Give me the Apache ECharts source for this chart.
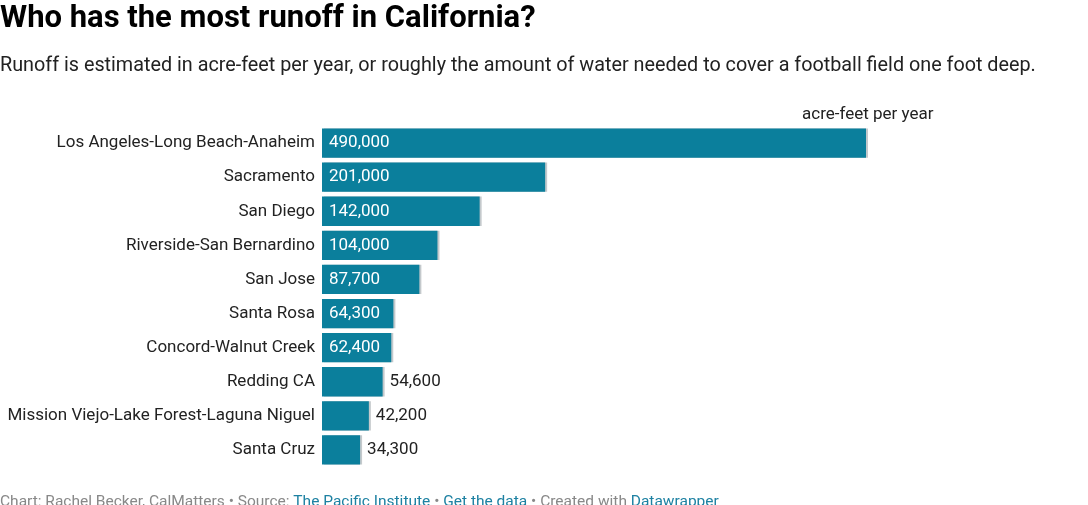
<!DOCTYPE html>
<html><head><meta charset="utf-8">
<script src="https://cdn.jsdelivr.net/npm/echarts@6/dist/echarts.min.js"></script>
<style>html,body{margin:0;padding:0;background:#fff}#c{width:1088px;height:505px}</style>
</head><body><div id="c"></div>
<script>
const categories = ["Los Angeles-Long Beach-Anaheim","Sacramento","San Diego","Riverside-San Bernardino","San Jose","Santa Rosa","Concord-Walnut Creek","Redding CA","Mission Viejo-Lake Forest-Laguna Niguel","Santa Cruz"];
const runoff = [490000,201000,142000,104000,87700,64300,62400,54600,42200,34300];
const unitLabel = "acre-feet per year";

const fmt = v => v.toLocaleString('en-US');
const chart = echarts.init(document.getElementById('c'));
const F = 'Roboto, "Noto Sans", sans-serif';
chart.setOption({
  animation:false,
  textStyle:{fontFamily:F},
  title:[
    {text:"Who has the most runoff in California?",left:0,top:4,padding:0,textStyle:{fontFamily:F,fontSize:31,fontWeight:'bold',color:'#000'}},
    {text:"Runoff is estimated in acre-feet per year, or roughly the amount of water needed to cover a football field one foot deep.",left:0,top:56,padding:0,textStyle:{fontFamily:F,fontSize:19.8,fontWeight:'normal',color:'#222'}},
    {text:unitLabel,left:802,top:106,padding:0,textStyle:{fontFamily:F,fontSize:17,fontWeight:'normal',color:'#222'}},
    {text:"{g|Chart: Rachel Becker, CalMatters • Source: }{b|The Pacific Institute}{g| • }{b|Get the data}{g| • Created with }{b|Datawrapper}",left:0,top:494,padding:0,
     textStyle:{fontFamily:F,fontSize:15.5,fontWeight:'normal',rich:{g:{color:'#888',fontSize:15.5,fontWeight:'normal',fontFamily:F},b:{color:'#1d81a2',fontSize:15.5,fontWeight:'normal',fontFamily:F}}}}
  ],
  grid:{left:322,right:222,top:126,bottom:38},
  xAxis:{type:'value',min:0,max:490000,show:false},
  yAxis:{type:'category',data:categories,inverse:true,axisLine:{show:false},axisTick:{show:false},
    axisLabel:{fontFamily:F,fontSize:17,color:'#222',margin:7}},
  series:[{
    type:'bar',barCategoryGap:'14%',
    data:runoff.map(v=>({value:v,label:v>60000?{position:'insideLeft',color:'#fff'}:{position:'right',color:'#222'}})),
    itemStyle:{color:'#0b7f9c',shadowColor:'#c4c9cc',shadowOffsetX:2,shadowBlur:0},
    label:{show:true,fontFamily:F,fontSize:17,distance:7,formatter:p=>fmt(p.value)}
  }]
});
</script></body></html>
